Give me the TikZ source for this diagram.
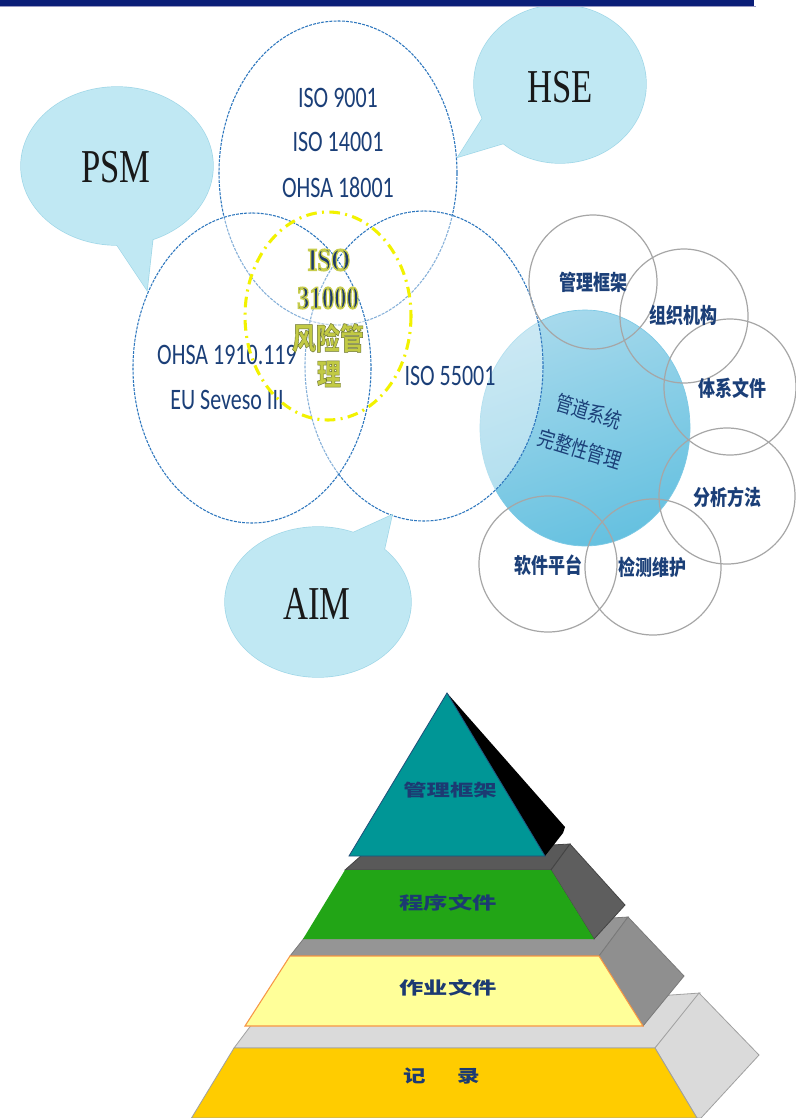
\documentclass[tikz,border=0pt]{standalone}
\usepackage{graphicx}
\usepackage{fontspec}
\setmainfont{Liberation Serif}
\newfontfamily\calfont{Carlito}
\newfontfamily\cjkfont{Noto Sans CJK SC}

\definecolor{barnavy}{HTML}{0B1E78}
\definecolor{barshade}{HTML}{9A9AC4}
\definecolor{venn}{HTML}{2E77BE}
\definecolor{vnavy}{HTML}{1B3F78}
\definecolor{bubble}{HTML}{C0E8F3}
\definecolor{bubbleedge}{HTML}{9ED6E7}
\definecolor{bigL}{HTML}{A6D9EC}
\definecolor{bigR}{HTML}{66C1E0}
\definecolor{bigedge}{HTML}{7CC9E5}
\definecolor{ringgray}{HTML}{A6A6A6}
\definecolor{isoyellow}{HTML}{F2F200}
\definecolor{isoolive}{HTML}{C2CA44}
\definecolor{isonavy}{HTML}{1E3A6A}
\definecolor{pyrtext}{HTML}{1C3A72}
\definecolor{teal}{HTML}{009696}
\definecolor{tealedge}{HTML}{1F4E79}
\definecolor{darkgray}{HTML}{595959}
\definecolor{darkside}{HTML}{5E5E5E}
\definecolor{darkedge}{HTML}{444444}
\definecolor{grass}{HTML}{22A516}
\definecolor{midgray}{HTML}{959595}
\definecolor{midside}{HTML}{8F8F8F}
\definecolor{midedge}{HTML}{7A7A7A}
\definecolor{paleyellow}{HTML}{FFFF99}
\definecolor{orangeedge}{HTML}{F79646}
\definecolor{lightgray}{HTML}{DADADA}
\definecolor{lightedge}{HTML}{A0A0A0}
\definecolor{gold}{HTML}{FFCC00}

% vertical / horizontal stretch of a piece of text
\newcommand{\vstretch}[2][1.35]{\scalebox{1}[#1]{#2}}
\newcommand{\hstretch}[2][1.45]{\scalebox{#1}[1]{#2}}
% text filled with the current colour and stroked with another one
\newcommand{\outlined}[3]{\special{pdf:literal direct #1 RG #2 w 2 Tr}#3\special{pdf:literal direct 0 Tr}}

\tikzset{
  vennline/.style={draw=venn, line width=0.8pt, dash pattern=on 2.2pt off 0.9pt,
                   fill=white, fill opacity=0.42},
  ring/.style={draw=ringgray, line width=0.9pt},
  bubbleline/.style={draw=bubbleedge, line width=1pt},
  bubblefill/.style={fill=bubble},
  venntxt/.style={font=\calfont\fontsize{16.5}{18}\selectfont, text=vnavy, inner sep=0pt},
  bubbletxt/.style={font=\fontsize{26}{28}\selectfont, text=black!90, inner sep=0pt},
  ringtxt/.style={font=\cjkfont\bfseries\fontsize{12.75}{14}\selectfont, text=vnavy, inner sep=0pt},
  pimtxt/.style={font=\cjkfont\fontsize{12.75}{14}\selectfont, text=vnavy, rotate=-17, inner sep=0pt},
  isotxt/.style={font=\bfseries\fontsize{18.5}{20}\selectfont, text=isonavy, inner sep=0pt},
  isocjk/.style={font=\cjkfont\bfseries\fontsize{18}{20}\selectfont, text=isoolive, inner sep=0pt},
  pyrtxt/.style={font=\cjkfont\bfseries\fontsize{13}{15}\selectfont, text=pyrtext, inner sep=0pt},
}

\begin{document}
\begin{tikzpicture}[x=0.75pt,y=-0.75pt]
\useasboundingbox (0,0) rectangle (796,1118);
\fill[white] (0,0) rectangle (796,1118);

% ---------- pipeline integrity circle ----------
\shade[top color=bigL, bottom color=bigR, shading angle=20]
  (585,428) ellipse [x radius=105, y radius=118];
\draw[bigedge, line width=0.5pt] (585,428) ellipse [x radius=105, y radius=118];

% ---------- standards (three dashed ellipses) ----------
\path[vennline] (338,173) ellipse [x radius=119, y radius=152];
\path[vennline] (424,366) ellipse [x radius=119, y radius=155];
\path[vennline] (252,368) ellipse [x radius=119, y radius=155];

% ---------- ring of elements ----------
\draw[ring] (593,282) ellipse [x radius=64, y radius=67];
\draw[ring] (684,316) ellipse [x radius=64, y radius=67];
\draw[ring] (730,387) ellipse [x radius=66, y radius=68];
\draw[ring] (727,496) ellipse [x radius=68, y radius=68];
\draw[ring] (653,567) ellipse [x radius=68, y radius=68];
\draw[ring] (548,564) ellipse [x radius=69, y radius=68];

\node[pimtxt] (pim1) at (589,412) {\vstretch[1.25]{管道系统}};
\node[pimtxt] (pim2) at (580,449) {\vstretch[1.25]{完整性管理}};

\node[ringtxt] (r1) at (593,282) {\vstretch[1.25]{管理框架}};
\node[ringtxt] (r2) at (683,315) {\vstretch[1.25]{组织机构}};
\node[ringtxt] (r3) at (732,388) {\vstretch[1.25]{体系文件}};
\node[ringtxt] (r4) at (727,497) {\vstretch[1.25]{分析方法}};
\node[ringtxt] (r5) at (652,567) {\vstretch[1.25]{检测维护}};
\node[ringtxt] (r6) at (548,565) {\vstretch[1.25]{软件平台}};

% ---------- speech bubbles ----------
% PSM
\draw[bubbleline] (105,227) -- (147,290) -- (155,219);
\draw[bubbleline] (117,166) ellipse [x radius=96, y radius=79];
\fill[bubblefill] (117,166) ellipse [x radius=96, y radius=79];
\fill[bubblefill] (105,227) -- (147,290) -- (155,219) -- cycle;
% HSE
\draw[bubbleline] (496,97) -- (458,157) -- (528,136);
\draw[bubbleline] (560,84) ellipse [x radius=86, y radius=79];
\fill[bubblefill] (560,84) ellipse [x radius=86, y radius=79];
\fill[bubblefill] (496,97) -- (458,157) -- (528,136) -- cycle;
% AIM
\draw[bubbleline] (337,540) -- (392,515) -- (381,564);
\draw[bubbleline] (318,602) ellipse [x radius=93, y radius=75];
\fill[bubblefill] (318,602) ellipse [x radius=93, y radius=75];
\fill[bubblefill] (337,540) -- (392,515) -- (381,564) -- cycle;

\node[bubbletxt] (psm) at (116,167) {\vstretch[1.36]{PSM}};
\node[bubbletxt] (hse) at (560,87) {\vstretch[1.36]{HSE}};
\node[bubbletxt] (aim) at (317,604) {\vstretch[1.36]{AIM}};

% ---------- standards texts ----------
\node[venntxt] (s1) at (338,98) {\vstretch{ISO 9001}};
\node[venntxt] (s2) at (338,142) {\vstretch{ISO 14001}};
\node[venntxt] (s3) at (338,187) {\vstretch{OHSA 18001}};
\node[venntxt] (s4) at (227,355) {\vstretch{OHSA 1910.119}};
\node[venntxt] (s5) at (227,400) {\vstretch{EU Seveso III}};
\node[venntxt] (s6) at (450,376) {\vstretch{ISO 55001}};

% ---------- ISO 31000 core ----------
\draw[isoyellow, line width=2.3pt, dash pattern=on 8pt off 4pt on 1.5pt off 4pt]
  (328,316) ellipse [x radius=83, y radius=104];
\node[isotxt] (iso1) at (329,260) {\vstretch[1.3]{\outlined{0.78 0.80 0.30}{0.9}{ISO}}};
\node[isotxt] (iso2) at (328,298) {\vstretch[1.3]{\outlined{0.78 0.80 0.30}{0.9}{31000}}};
\node[isocjk] (iso3) at (328,338) {\vstretch[1.25]{\outlined{0.42 0.45 0.20}{0.3}{风险管}}};
\node[isocjk] (iso4) at (329,374) {\vstretch[1.25]{\outlined{0.42 0.45 0.20}{0.3}{理}}};

% ---------- document pyramid ----------
% bottom tier: records
\filldraw[fill=lightgray, draw=lightedge, line width=0.6pt]
  (234,1048) -- (252,1024) -- (700,993) -- (655,1048) -- cycle;
\filldraw[fill=lightgray, draw=lightedge, line width=0.6pt]
  (655,1048) -- (699,993) -- (759,1055) -- (701,1118) -- (697,1118) -- cycle;
\filldraw[fill=gold, draw=lightedge, line width=0.6pt]
  (234,1048) -- (655,1048) -- (697,1118) -- (191.5,1118) -- cycle;
% third tier: work instructions
\filldraw[fill=midgray, draw=midedge, line width=0.6pt]
  (290,956) -- (305,937) -- (628,917) -- (599,956) -- cycle;
\filldraw[fill=midside, draw=midedge, line width=0.6pt]
  (599,956) -- (628,917) -- (684,976) -- (643,1026) -- cycle;
\filldraw[fill=paleyellow, draw=orangeedge, line width=0.8pt]
  (290,956) -- (599,956) -- (643,1026) -- (245,1026) -- cycle;
% second tier: procedures
\filldraw[fill=darkgray, draw=darkedge, line width=0.6pt]
  (345,870) -- (362,855) -- (570,844) -- (551,870) -- cycle;
\filldraw[fill=darkside, draw=darkedge, line width=0.6pt]
  (551,870) -- (570,844) -- (625,905) -- (594,939) -- cycle;
\fill[grass] (345,870) -- (551,870) -- (594,939) -- (303,939) -- cycle;
% top: management framework
\fill[black] (447,693) -- (565,827) -- (563,833) -- (545,856) -- cycle;
\filldraw[fill=teal, draw=tealedge, line width=0.6pt]
  (447,693) -- (545,856) -- (349,856) -- cycle;

\node[pyrtxt, font=\cjkfont\bfseries\fontsize{12.5}{14}\selectfont] (p1) at (450,790) {\hstretch[1.4]{管理框架}};
\node[pyrtxt] (p2) at (448,903) {\hstretch[1.4]{程序文件}};
\node[pyrtxt] (p3) at (448,988) {\hstretch[1.4]{作业文件}};
\node[pyrtxt] (p4a) at (414.6,1076) {\hstretch[1.3]{记}};
\node[pyrtxt] (p4b) at (469,1076) {\hstretch[1.3]{录}};

% ---------- title bar ----------
\fill[barshade] (0,5.5) rectangle (756,7.2);
\fill[barnavy] (0,0) rectangle (754,5.8);
\end{tikzpicture}
\end{document}
